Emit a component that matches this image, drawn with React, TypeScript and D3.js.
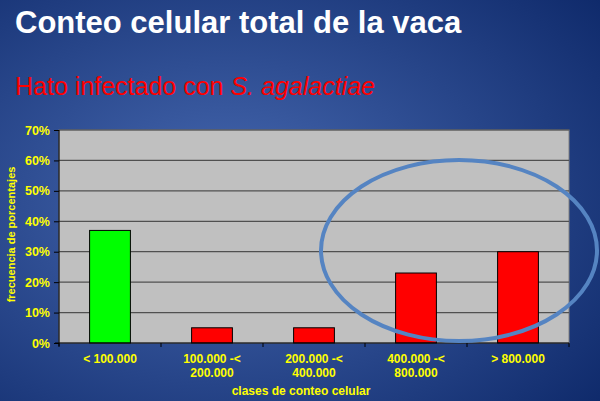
import React, { useEffect, useRef } from "react";
import * as d3 from "d3";

// clases de conteo celular (dos renglones por etiqueta)
const categories = ["< 100.000", "100.000 -< 200.000", "200.000 -< 400.000", "400.000 -< 800.000", "> 800.000"];
const labelLines = [["< 100.000"], ["100.000 -<", "200.000"], ["200.000 -<", "400.000"], ["400.000 -<", "800.000"], ["> 800.000"]];
const values = [37, 5, 5, 23, 30];
const barColors = ["#00ff00", "#ff0000", "#ff0000", "#ff0000", "#ff0000"];
const yTicks = [0, 10, 20, 30, 40, 50, 60, 70];

const App: React.FC = () => {
  const svgRef = useRef<SVGSVGElement>(null);

  useEffect(() => {
    const width = 600;
    const height = 401;
    const left = 59;
    const right = 569;
    const top = 130;
    const bottom = 343;
    const yellow = "#ffff00";
    const font = "Liberation Sans, Arial, sans-serif";

    const svg = d3.select(svgRef.current).attr("width", width).attr("height", height);
    svg.selectAll("*").remove();

    // fondo azul con degradado radial
    const defs = svg.append("defs");
    const grad = defs
      .append("radialGradient")
      .attr("id", "bg")
      .attr("cx", "38%")
      .attr("cy", "50%")
      .attr("r", "80%");
    grad.append("stop").attr("offset", "0%").attr("stop-color", "#4769b1");
    grad.append("stop").attr("offset", "100%").attr("stop-color", "#0f2a6b");
    svg.append("rect").attr("width", width).attr("height", height).attr("fill", "url(#bg)");

    // títulos
    svg
      .append("text")
      .attr("x", 15)
      .attr("y", 33)
      .attr("fill", "#ffffff")
      .style("font-family", font)
      .style("font-weight", "bold")
      .style("font-size", "31px")
      .text("Conteo celular total de la vaca");

    const sub = svg
      .append("text")
      .attr("x", 15)
      .attr("y", 95)
      .attr("fill", "#ff0000")
      .style("font-family", font)
      .style("font-size", "25px");
    sub.append("tspan").text("Hato infectado con ");
    sub.append("tspan").style("font-style", "italic").text("S. agalactiae");

    const x = d3.scaleBand<string>().domain(categories).range([left, right]).paddingInner(0.6).paddingOuter(0.3);
    const y = d3.scaleLinear().domain([0, 70]).range([bottom, top]);

    // área del gráfico
    svg
      .append("rect")
      .attr("x", left)
      .attr("y", top)
      .attr("width", right - left)
      .attr("height", bottom - top)
      .attr("fill", "#c0c0c0")
      .attr("stroke", "#808080")
      .attr("stroke-width", 1);

    // líneas de cuadrícula
    svg
      .append("g")
      .selectAll("line")
      .data(yTicks.slice(1))
      .enter()
      .append("line")
      .attr("x1", left)
      .attr("x2", right)
      .attr("y1", (d) => y(d))
      .attr("y2", (d) => y(d))
      .attr("stroke", "#505050")
      .attr("stroke-width", 1.2);

    // barras
    svg
      .append("g")
      .selectAll("rect")
      .data(values)
      .enter()
      .append("rect")
      .attr("x", (d, i) => x(categories[i])!)
      .attr("y", (d) => y(d))
      .attr("width", x.bandwidth())
      .attr("height", (d) => bottom - y(d))
      .attr("fill", (d, i) => barColors[i])
      .attr("stroke", "#000000")
      .attr("stroke-width", 1);

    // eje Y
    const yAxis = svg
      .append("g")
      .attr("transform", `translate(${left},0)`)
      .call(
        d3
          .axisLeft(y)
          .tickValues(yTicks)
          .tickSize(5)
          .tickPadding(4)
          .tickFormat((d) => `${d}%`)
      );
    yAxis.select(".domain").attr("stroke", "#000000").attr("d", `M0,${top}V${bottom + 3}`);
    yAxis.selectAll(".tick line").attr("stroke", "#000000");
    yAxis
      .selectAll("text")
      .attr("fill", yellow)
      .style("font-family", font)
      .style("font-weight", "bold")
      .style("font-size", "12.5px");

    // eje X
    const edges = categories.map((c) => x(c)! - (x.step() - x.bandwidth()) / 2).concat([right]);
    const xAxis = svg.append("g");
    xAxis
      .append("line")
      .attr("x1", left - 4)
      .attr("x2", right)
      .attr("y1", bottom)
      .attr("y2", bottom)
      .attr("stroke", "#000000");
    xAxis
      .selectAll("line.tk")
      .data(edges)
      .enter()
      .append("line")
      .attr("class", "tk")
      .attr("x1", (d) => d)
      .attr("x2", (d) => d)
      .attr("y1", bottom)
      .attr("y2", bottom + 4)
      .attr("stroke", "#000000");

    const lbl = xAxis
      .selectAll("text.lbl")
      .data(labelLines)
      .enter()
      .append("text")
      .attr("class", "lbl")
      .attr("text-anchor", "middle")
      .attr("fill", yellow)
      .style("font-family", font)
      .style("font-weight", "bold")
      .style("font-size", "12px");
    lbl
      .selectAll("tspan")
      .data((d) => d)
      .enter()
      .append("tspan")
      .attr("x", function () {
        const i = labelLines.indexOf(d3.select((this as any).parentNode).datum() as string[]);
        return x(categories[i])! + x.bandwidth() / 2;
      })
      .attr("y", (d, j) => 363 + j * 13.5)
      .text((d) => d);

    // títulos de ejes
    svg
      .append("text")
      .attr("x", (left + right) / 2 - 13)
      .attr("y", 395)
      .attr("text-anchor", "middle")
      .attr("fill", yellow)
      .style("font-family", font)
      .style("font-weight", "bold")
      .style("font-size", "12px")
      .text("clases de conteo celular");

    svg
      .append("text")
      .attr("transform", `translate(15,${(top + bottom) / 2 - 2}) rotate(-90)`)
      .attr("text-anchor", "middle")
      .attr("fill", yellow)
      .style("font-family", font)
      .style("font-weight", "bold")
      .style("font-size", "11px")
      .text("frecuencia de porcentajes");

    // elipse de resaltado
    svg
      .append("ellipse")
      .attr("cx", 459)
      .attr("cy", 250.5)
      .attr("rx", 138)
      .attr("ry", 90.5)
      .attr("fill", "none")
      .attr("stroke", "#5584c2")
      .attr("stroke-width", 4);
  }, []);

  return (
    <div style={{ position: "absolute", left: 0, top: 0 }}>
      <svg ref={svgRef} style={{ display: "block" }}></svg>
    </div>
  );
};

export default App;
